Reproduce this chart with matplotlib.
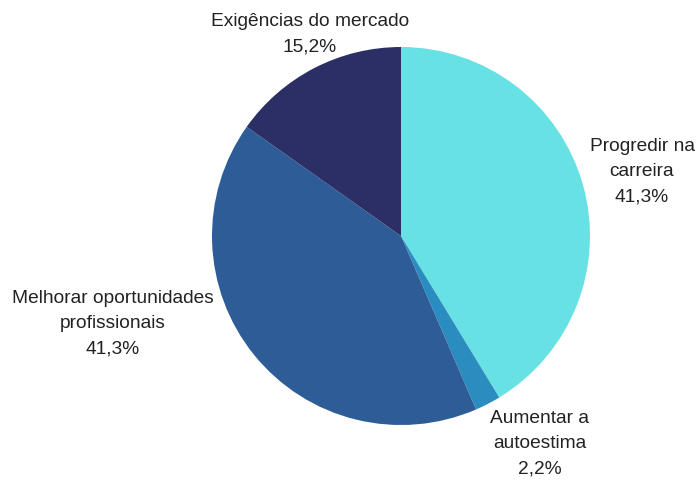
import matplotlib.pyplot as plt

plt.rcParams['font.family'] = ['Liberation Sans', 'DejaVu Sans']

labels = ['Progredir na\ncarreira', 'Aumentar a\nautoestima',
          'Melhorar oportunidades\nprofissionais', 'Exigências do mercado']
values = [41.3, 2.2, 41.3, 15.2]
colors = ['#67e1e4', '#2a8cbf', '#2e5c97', '#2c2f66']

# label anchor points in pixel space (x, y from top)
label_pos = [(642, 172), (540, 444), (113, 324), (310, 34)]

W, H = 697, 480
fig = plt.figure(figsize=(W / 100, H / 100), dpi=100)
ax = fig.add_axes([0, 0, 1, 1])

ax.pie(values, colors=colors, startangle=90, counterclock=False,
       center=(401, H - 236), radius=189, frame=True,
       wedgeprops=dict(linewidth=0))
ax.set_xlim(0, W)
ax.set_ylim(0, H)
ax.axis('off')

for lab, val, (x, y) in zip(labels, values, label_pos):
    txt = lab + '\n' + f'{val:.1f}'.replace('.', ',') + '%'
    ax.text(x, H - y, txt, ha='center', va='center', fontsize=13.8,
            color='#222222', linespacing=1.65)

fig.savefig('out.png', dpi=100)
